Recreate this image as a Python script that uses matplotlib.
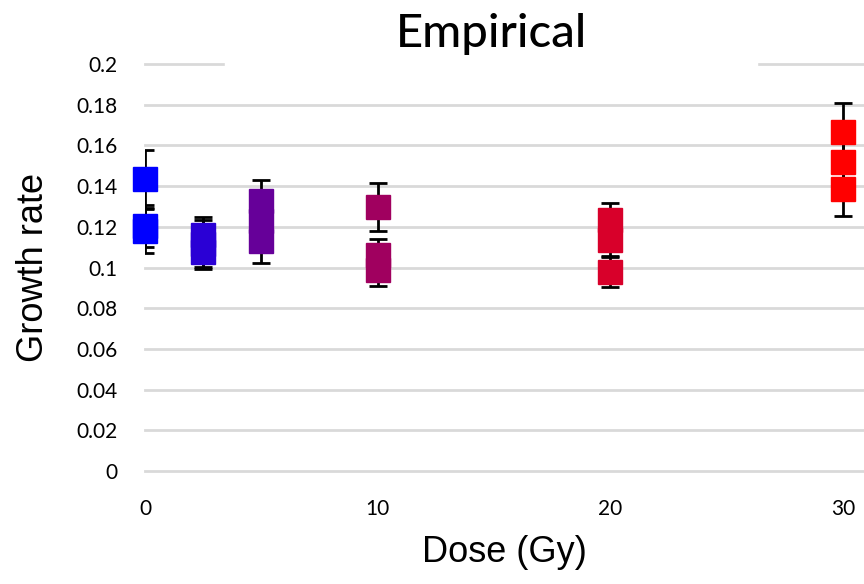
import matplotlib
matplotlib.use('Agg')
from matplotlib import pyplot as plt
from matplotlib.patches import Rectangle

# doses and growth rates
dose = [0, 0, 0, 2.5, 2.5, 2.5, 5, 5, 5, 10, 10, 10, 20, 20, 20, 30, 30, 30]
rate = [0.1435, 0.1204, 0.1179, 0.116, 0.1115, 0.1076, 0.1327, 0.123, 0.113,
        0.1297, 0.106, 0.0988, 0.1233, 0.1135, 0.0978, 0.1666, 0.1518, 0.1386]
err = [0.0143, 0.0103, 0.011, 0.0088, 0.012, 0.0075, 0.0103, 0.008, 0.0108,
       0.0118, 0.0078, 0.0078, 0.0084, 0.0078, 0.0074, 0.0144, 0.0125, 0.0133]
colors = ['#0000FF'] * 3 + ['#2A00D5'] * 3 + ['#660099'] * 3 + \
         ['#A0005F'] * 3 + ['#D8002A'] * 3 + ['#FF0000'] * 3

yticks = [0, 0.02, 0.04, 0.06, 0.08, 0.1, 0.12, 0.14, 0.16, 0.18, 0.2]
ytick_labels = ['0', '0.02', '0.04', '0.06', '0.08', '0.1', '0.12', '0.14', '0.16', '0.18', '0.2']
xticks = [0, 10, 20, 30]

tick_font = ['Liberation Sans Narrow', 'DejaVu Sans Condensed', 'Lato']

fig = plt.figure(figsize=(8.64, 5.84), dpi=100)
ax = fig.add_axes([145 / 864, 113 / 584, 719 / 864, 407 / 584])

for y in yticks:
    ax.axhline(y, color='#D9D9D9', lw=2, zorder=0, clip_on=False)

ax.errorbar(dose, rate, yerr=err, fmt='none', ecolor='black', elinewidth=2,
            capsize=6.5, capthick=2, zorder=2)
for d, r, c in zip(dose, rate, colors):
    ax.plot(d, r, 's', ms=17.5, color=c, mec=c, zorder=3, clip_on=False)

ax.set_xlim(0, 30.9)
ax.set_ylim(0, 0.2)
ax.set_xticks(xticks)
ax.set_xticklabels([str(x) for x in xticks], family=tick_font, fontsize=15)
ax.set_yticks(yticks)
ax.set_yticklabels(ytick_labels, family=tick_font, fontsize=15)
ax.tick_params(length=0)
ax.tick_params(axis='x', pad=20)
ax.tick_params(axis='y', pad=20)
for s in ax.spines.values():
    s.set_visible(False)

ax.set_xlabel('Dose (Gy)', family='Liberation Sans', fontsize=26, labelpad=12)
ax.set_ylabel('Growth rate', family='Liberation Sans', fontsize=26, labelpad=18)

# white title box covering the top gridline, like the Excel original
fig.patches.append(Rectangle((225 / 864, 1 - 80 / 584), (757 - 225) / 864, 80 / 584,
                             transform=fig.transFigure, color='white', zorder=1))
fig.text(491 / 864, 1 - 34 / 584, 'Empirical', ha='center', va='center',
         family='Lato', fontsize=34, fontweight='medium', zorder=2)

plt.savefig('out.png', dpi=100)
